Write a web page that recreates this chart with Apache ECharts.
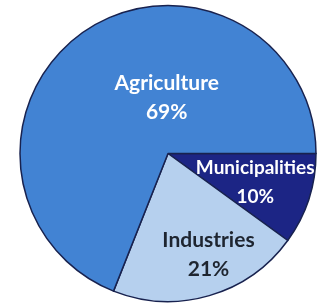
<!DOCTYPE html>
<html>
<head>
<meta charset="utf-8">
<script src="https://cdn.jsdelivr.net/npm/echarts@6/dist/echarts.min.js"></script>
<style>
  html, body { margin: 0; padding: 0; background: #fff; }
  #chart { width: 326px; height: 306px; }
</style>
</head>
<body>
<div id="chart"></div>
<script>
// water use by sector (percent), clockwise from 3 o'clock
const sectors = ['Municipalities', 'Industries', 'Agriculture']
const shares = [10, 21, 69]
const sliceColors = ['#1c2585', '#b6d0ee', '#4283d3']
const labelColors = ['#ffffff', '#1e2530', '#ffffff']
const labelSizes = [19, 21, 21]
// nudges from the default inside label spot
const labelNudge = [[14, 5], [19, 27], [42, 8]]

const chart = echarts.init(document.getElementById('chart'))

chart.setOption({
  animation: false,
  series: [
    {
      type: 'pie',
      center: [168, 153.5],
      radius: 148,
      startAngle: 0,
      clockwise: true,
      avoidLabelOverlap: false,
      data: sectors.map((name, i) => ({
        name: name,
        value: shares[i],
        itemStyle: { color: sliceColors[i] },
        label: { color: labelColors[i], fontSize: labelSizes[i] }
      })),
      itemStyle: {
        borderColor: '#18224f',
        borderWidth: 1.5
      },
      label: {
        show: true,
        position: 'inside',
        formatter: '{b}\n{c}%',
        fontFamily: 'Lato',
        fontWeight: 'bold',
        lineHeight: 29,
        align: 'center',
        overflow: 'none'
      },
      labelLayout: (params) => ({
        dx: labelNudge[params.dataIndex][0],
        dy: labelNudge[params.dataIndex][1]
      }),
      emphasis: { disabled: true }
    }
  ]
})
</script>
</body>
</html>
